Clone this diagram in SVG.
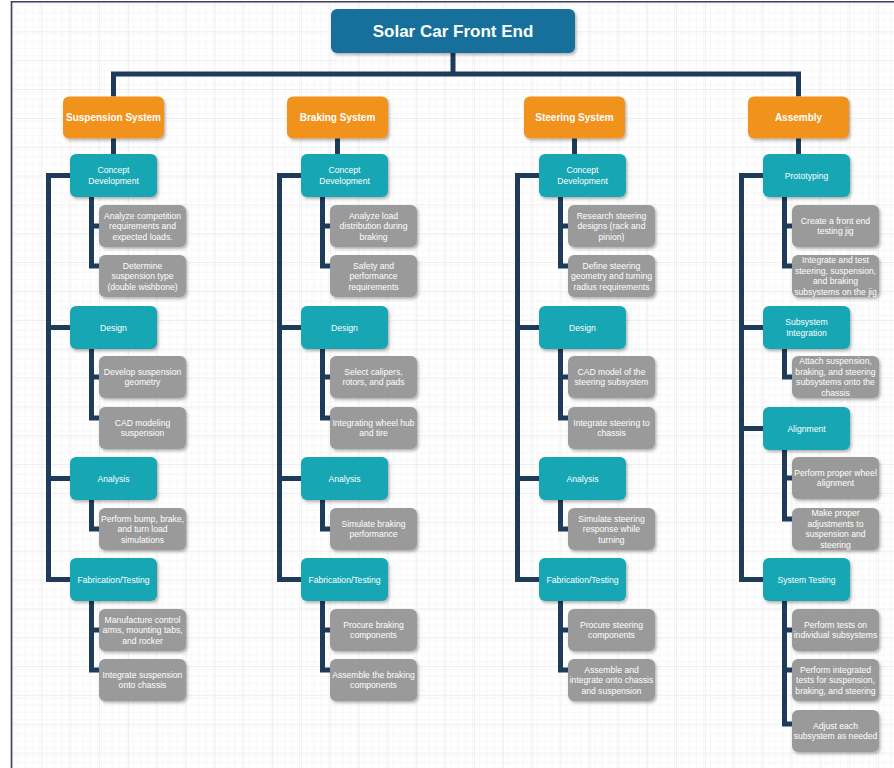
<svg xmlns="http://www.w3.org/2000/svg" width="894" height="768" viewBox="0 0 894 768">
<defs>
<pattern id="minor" x="12.5" y="2.5" width="7.2125" height="7.2125" patternUnits="userSpaceOnUse">
<path d="M0,0 H7.2125 M0,0 V7.2125" fill="none" stroke="#f0f0f2" stroke-width="1"/>
</pattern>
<pattern id="major" x="12.5" y="2.5" width="28.85" height="28.85" patternUnits="userSpaceOnUse">
<rect width="28.85" height="28.85" fill="url(#minor)"/>
<path d="M0,0 H28.85 M0,0 V28.85" fill="none" stroke="#e0e0e4" stroke-width="1"/>
</pattern>
<filter id="sh" x="-20%" y="-20%" width="140%" height="150%">
<feDropShadow dx="1.5" dy="2" stdDeviation="1.5" flood-color="#000" flood-opacity="0.3"/>
</filter>
</defs>
<style>
.tb{fill:#17709b;filter:url(#sh)}
.or{fill:#f1921f;filter:url(#sh)}
.tl{fill:#16a6b4;filter:url(#sh)}
.gr{fill:#9a9a9a;filter:url(#sh)}
text{font-family:"Liberation Sans",Arial,sans-serif;fill:#ffffff;text-anchor:middle}
.tt{font-size:17px;font-weight:bold}
.ot{font-size:10px;font-weight:bold}
.s{font-size:8.6px}
.cn{fill:none;stroke:#1e3c5a;stroke-width:5;stroke-linejoin:miter;stroke-linecap:butt}
</style>
<rect x="0" y="0" width="894" height="768" fill="#ffffff"/>
<rect x="12" y="2" width="882" height="766" fill="url(#major)"/>
<path d="M11.5,768 V1.8 H894" fill="none" stroke="#3d4059" stroke-width="1.6"/>

<g id="connectors" class="cn">
<path d="M453,53 V74 M113.5,96.5 V74 H798.5 V96.5"/>
<path d="M113.5,138 V155 M337.5,138 V155 M574.5,138 V155 M798.5,138 V155"/>
<path d="M72,175.5 H48.5 V579.5 H72 M48.5,327.5 H72 M48.5,478.5 H72"/>
<path d="M303,175.5 H279.5 V579.5 H303 M279.5,327.5 H303 M279.5,478.5 H303"/>
<path d="M541,175.5 H517.5 V579.5 H541 M517.5,327.5 H541 M517.5,478.5 H541"/>
<path d="M765,175.5 H741.5 V579.5 H765 M741.5,327.5 H765 M741.5,428.5 H765"/>
<path d="M91.5,196 V266 H101 M91.5,226 H101 M91.5,348 V418 H101 M91.5,377 H101 M91.5,499 V529 H101 M91.5,600 V670 H101 M91.5,630 H101"/>
<path d="M322.5,196 V266 H332 M322.5,226 H332 M322.5,348 V418 H332 M322.5,377 H332 M322.5,499 V529 H332 M322.5,600 V670 H332 M322.5,630 H332"/>
<path d="M560.5,196 V266 H570 M560.5,226 H570 M560.5,348 V418 H570 M560.5,377 H570 M560.5,499 V529 H570 M560.5,600 V670 H570 M560.5,630 H570"/>
<path d="M784.5,196 V266 H794 M784.5,226 H794 M784.5,348 V377 H794 M784.5,449 V519 H794 M784.5,478 H794 M784.5,600 V724 H794 M784.5,630 H794 M784.5,670 H794"/>
</g>

<g id="root"><rect class="tb" x="331" y="9" width="244" height="44" rx="6"/><text class="tt" x="453" y="37">Solar Car Front End</text></g>

<g id="suspension"><rect class="or" x="63" y="96.5" width="101" height="42" rx="6"/><text class="ot" x="113.5" y="121">Suspension System</text></g>
<g id="braking"><rect class="or" x="287" y="96.5" width="101" height="42" rx="6"/><text class="ot" x="337.5" y="121">Braking System</text></g>
<g id="steering"><rect class="or" x="524" y="96.5" width="101" height="42" rx="6"/><text class="ot" x="574.5" y="121">Steering System</text></g>
<g id="assembly"><rect class="or" x="748" y="96.5" width="101" height="42" rx="6"/><text class="ot" x="798.5" y="121">Assembly</text></g>

<!-- Suspension column -->
<g id="sus-concept"><rect class="tl" x="70" y="154" width="87" height="43" rx="6"/><text class="s" x="113.5" y="173.3"><tspan x="113.5">Concept</tspan><tspan x="113.5" dy="10.6">Development</tspan></text></g>
<g id="sus-concept-1"><rect class="gr" x="99" y="205" width="87" height="42" rx="6"/><text class="s" y="218.5"><tspan x="142.5">Analyze competition</tspan><tspan x="142.5" dy="10.6">requirements and</tspan><tspan x="142.5" dy="10.6">expected loads.</tspan></text></g>
<g id="sus-concept-2"><rect class="gr" x="99" y="255" width="87" height="42" rx="6"/><text class="s" y="268.5"><tspan x="142.5">Determine</tspan><tspan x="142.5" dy="10.6">suspension type</tspan><tspan x="142.5" dy="10.6">(double wishbone)</tspan></text></g>
<g id="sus-design"><rect class="tl" x="70" y="306" width="87" height="43" rx="6"/><text class="s" x="113.5" y="330.6">Design</text></g>
<g id="sus-design-1"><rect class="gr" x="99" y="356" width="87" height="42" rx="6"/><text class="s" y="374.8"><tspan x="142.5">Develop suspension</tspan><tspan x="142.5" dy="10.6">geometry</tspan></text></g>
<g id="sus-design-2"><rect class="gr" x="99" y="407" width="87" height="42" rx="6"/><text class="s" y="425.8"><tspan x="142.5">CAD modeling</tspan><tspan x="142.5" dy="10.6">suspension</tspan></text></g>
<g id="sus-analysis"><rect class="tl" x="70" y="457" width="87" height="43" rx="6"/><text class="s" x="113.5" y="481.6">Analysis</text></g>
<g id="sus-analysis-1"><rect class="gr" x="99" y="508" width="87" height="42" rx="6"/><text class="s" y="521.5"><tspan x="142.5">Perform bump, brake,</tspan><tspan x="142.5" dy="10.6">and turn load</tspan><tspan x="142.5" dy="10.6">simulations</tspan></text></g>
<g id="sus-fab"><rect class="tl" x="70" y="558" width="87" height="43" rx="6"/><text class="s" x="113.5" y="582.6">Fabrication/Testing</text></g>
<g id="sus-fab-1"><rect class="gr" x="99" y="609" width="87" height="42" rx="6"/><text class="s" y="622.5"><tspan x="142.5">Manufacture control</tspan><tspan x="142.5" dy="10.6">arms, mounting tabs,</tspan><tspan x="142.5" dy="10.6">and rocker</tspan></text></g>
<g id="sus-fab-2"><rect class="gr" x="99" y="659" width="87" height="42" rx="6"/><text class="s" y="677.8"><tspan x="142.5">Integrate suspension</tspan><tspan x="142.5" dy="10.6">onto chassis</tspan></text></g>

<!-- Braking column -->
<g id="brk-concept"><rect class="tl" x="301" y="154" width="87" height="43" rx="6"/><text class="s" y="173.3"><tspan x="344.5">Concept</tspan><tspan x="344.5" dy="10.6">Development</tspan></text></g>
<g id="brk-concept-1"><rect class="gr" x="330" y="205" width="87" height="42" rx="6"/><text class="s" y="218.5"><tspan x="373.5">Analyze load</tspan><tspan x="373.5" dy="10.6">distribution during</tspan><tspan x="373.5" dy="10.6">braking</tspan></text></g>
<g id="brk-concept-2"><rect class="gr" x="330" y="255" width="87" height="42" rx="6"/><text class="s" y="268.5"><tspan x="373.5">Safety and</tspan><tspan x="373.5" dy="10.6">performance</tspan><tspan x="373.5" dy="10.6">requirements</tspan></text></g>
<g id="brk-design"><rect class="tl" x="301" y="306" width="87" height="43" rx="6"/><text class="s" x="344.5" y="330.6">Design</text></g>
<g id="brk-design-1"><rect class="gr" x="330" y="356" width="87" height="42" rx="6"/><text class="s" y="374.8"><tspan x="373.5">Select calipers,</tspan><tspan x="373.5" dy="10.6">rotors, and pads</tspan></text></g>
<g id="brk-design-2"><rect class="gr" x="330" y="407" width="87" height="42" rx="6"/><text class="s" y="425.8"><tspan x="373.5">Integrating wheel hub</tspan><tspan x="373.5" dy="10.6">and tire</tspan></text></g>
<g id="brk-analysis"><rect class="tl" x="301" y="457" width="87" height="43" rx="6"/><text class="s" x="344.5" y="481.6">Analysis</text></g>
<g id="brk-analysis-1"><rect class="gr" x="330" y="508" width="87" height="42" rx="6"/><text class="s" y="526.8"><tspan x="373.5">Simulate braking</tspan><tspan x="373.5" dy="10.6">performance</tspan></text></g>
<g id="brk-fab"><rect class="tl" x="301" y="558" width="87" height="43" rx="6"/><text class="s" x="344.5" y="582.6">Fabrication/Testing</text></g>
<g id="brk-fab-1"><rect class="gr" x="330" y="609" width="87" height="42" rx="6"/><text class="s" y="627.8"><tspan x="373.5">Procure braking</tspan><tspan x="373.5" dy="10.6">components</tspan></text></g>
<g id="brk-fab-2"><rect class="gr" x="330" y="659" width="87" height="42" rx="6"/><text class="s" y="677.8"><tspan x="373.5">Assemble the braking</tspan><tspan x="373.5" dy="10.6">components</tspan></text></g>

<!-- Steering column -->
<g id="str-concept"><rect class="tl" x="539" y="154" width="87" height="43" rx="6"/><text class="s" y="173.3"><tspan x="582.5">Concept</tspan><tspan x="582.5" dy="10.6">Development</tspan></text></g>
<g id="str-concept-1"><rect class="gr" x="568" y="205" width="87" height="42" rx="6"/><text class="s" y="218.5"><tspan x="611.5">Research steering</tspan><tspan x="611.5" dy="10.6">designs (rack and</tspan><tspan x="611.5" dy="10.6">pinion)</tspan></text></g>
<g id="str-concept-2"><rect class="gr" x="568" y="255" width="87" height="42" rx="6"/><text class="s" y="268.5"><tspan x="611.5">Define steering</tspan><tspan x="611.5" dy="10.6">geometry and turning</tspan><tspan x="611.5" dy="10.6">radius requirements</tspan></text></g>
<g id="str-design"><rect class="tl" x="539" y="306" width="87" height="43" rx="6"/><text class="s" x="582.5" y="330.6">Design</text></g>
<g id="str-design-1"><rect class="gr" x="568" y="356" width="87" height="42" rx="6"/><text class="s" y="374.8"><tspan x="611.5">CAD model of the</tspan><tspan x="611.5" dy="10.6">steering subsystem</tspan></text></g>
<g id="str-design-2"><rect class="gr" x="568" y="407" width="87" height="42" rx="6"/><text class="s" y="425.8"><tspan x="611.5">Integrate steering to</tspan><tspan x="611.5" dy="10.6">chassis</tspan></text></g>
<g id="str-analysis"><rect class="tl" x="539" y="457" width="87" height="43" rx="6"/><text class="s" x="582.5" y="481.6">Analysis</text></g>
<g id="str-analysis-1"><rect class="gr" x="568" y="508" width="87" height="42" rx="6"/><text class="s" y="521.5"><tspan x="611.5">Simulate steering</tspan><tspan x="611.5" dy="10.6">response while</tspan><tspan x="611.5" dy="10.6">turning</tspan></text></g>
<g id="str-fab"><rect class="tl" x="539" y="558" width="87" height="43" rx="6"/><text class="s" x="582.5" y="582.6">Fabrication/Testing</text></g>
<g id="str-fab-1"><rect class="gr" x="568" y="609" width="87" height="42" rx="6"/><text class="s" y="627.8"><tspan x="611.5">Procure steering</tspan><tspan x="611.5" dy="10.6">components</tspan></text></g>
<g id="str-fab-2"><rect class="gr" x="568" y="659" width="87" height="42" rx="6"/><text class="s" y="672.5"><tspan x="611.5">Assemble and</tspan><tspan x="611.5" dy="10.6">integrate onto chassis</tspan><tspan x="611.5" dy="10.6">and suspension</tspan></text></g>

<!-- Assembly column -->
<g id="asm-proto"><rect class="tl" x="763" y="154" width="87" height="43" rx="6"/><text class="s" x="806.5" y="178.6">Prototyping</text></g>
<g id="asm-proto-1"><rect class="gr" x="792" y="205" width="87" height="42" rx="6"/><text class="s" y="223.8"><tspan x="835.5">Create a front end</tspan><tspan x="835.5" dy="10.6">testing jig</tspan></text></g>
<g id="asm-proto-2"><rect class="gr" x="792" y="255" width="87" height="42" rx="6"/><text class="s" y="263.2"><tspan x="835.5">Integrate and test</tspan><tspan x="835.5" dy="10.6">steering, suspension,</tspan><tspan x="835.5" dy="10.6">and braking</tspan><tspan x="835.5" dy="10.6">subsystems on the jig</tspan></text></g>
<g id="asm-integ"><rect class="tl" x="763" y="306" width="87" height="43" rx="6"/><text class="s" y="325.3"><tspan x="806.5">Subsystem</tspan><tspan x="806.5" dy="10.6">Integration</tspan></text></g>
<g id="asm-integ-1"><rect class="gr" x="792" y="356" width="87" height="42" rx="6"/><text class="s" y="364.2"><tspan x="835.5">Attach suspension,</tspan><tspan x="835.5" dy="10.6">braking, and steering</tspan><tspan x="835.5" dy="10.6">subsystems onto the</tspan><tspan x="835.5" dy="10.6">chassis</tspan></text></g>
<g id="asm-align"><rect class="tl" x="763" y="407" width="87" height="43" rx="6"/><text class="s" x="806.5" y="431.6">Alignment</text></g>
<g id="asm-align-1"><rect class="gr" x="792" y="457" width="87" height="42" rx="6"/><text class="s" y="475.8"><tspan x="835.5">Perform proper wheel</tspan><tspan x="835.5" dy="10.6">alignment</tspan></text></g>
<g id="asm-align-2"><rect class="gr" x="792" y="508" width="87" height="42" rx="6"/><text class="s" y="516.2"><tspan x="835.5">Make proper</tspan><tspan x="835.5" dy="10.6">adjustments to</tspan><tspan x="835.5" dy="10.6">suspension and</tspan><tspan x="835.5" dy="10.6">steering</tspan></text></g>
<g id="asm-test"><rect class="tl" x="763" y="558" width="87" height="43" rx="6"/><text class="s" x="806.5" y="582.6">System Testing</text></g>
<g id="asm-test-1"><rect class="gr" x="792" y="609" width="87" height="42" rx="6"/><text class="s" y="627.8"><tspan x="835.5">Perform tests on</tspan><tspan x="835.5" dy="10.6">individual subsystems</tspan></text></g>
<g id="asm-test-2"><rect class="gr" x="792" y="659" width="87" height="42" rx="6"/><text class="s" y="672.5"><tspan x="835.5">Perform integrated</tspan><tspan x="835.5" dy="10.6">tests for suspension,</tspan><tspan x="835.5" dy="10.6">braking, and steering</tspan></text></g>
<g id="asm-test-3"><rect class="gr" x="792" y="710" width="87" height="42" rx="6"/><text class="s" y="728.8"><tspan x="835.5">Adjust each</tspan><tspan x="835.5" dy="10.6">subsystem as needed</tspan></text></g>
</svg>
